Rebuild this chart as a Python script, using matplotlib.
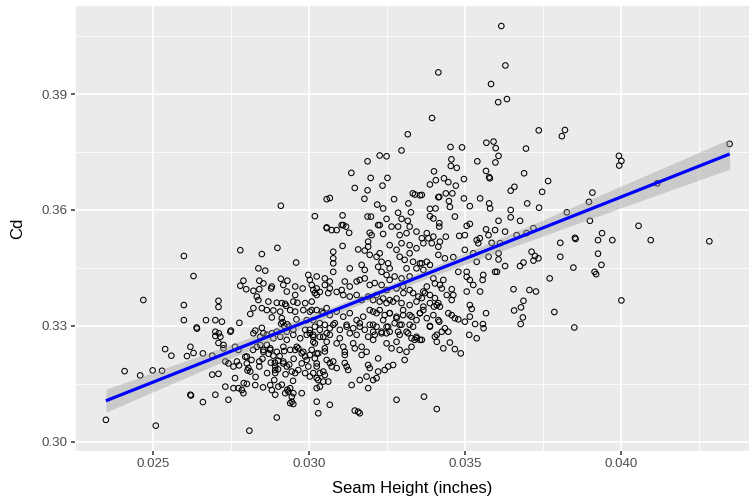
import numpy as np
import matplotlib
matplotlib.use("Agg")
import matplotlib.pyplot as plt
from matplotlib.ticker import FixedLocator

# Seam height (inches) and drag coefficient
seam_height = [
    # left tail
    0.02598,0.02629,0.02468,0.02598,0.02598,0.02669,0.02699,0.02639,0.02640,0.02709,
    0.02709,0.02699,0.02699,0.02709,0.02619,0.02538,0.02558,0.02608,0.02629,0.02659,
    0.02689,0.02408,0.02458,0.02498,0.02528,0.02689,0.02709,0.02619,0.02621,0.02659,
    0.02699,0.02348,0.02508,
    # 0.0275 - 0.030, upper
    0.02779,0.02848,0.02898,0.02958,0.02837,0.02859,0.02789,0.02779,0.02798,0.02821,
    0.02840,0.02840,0.02878,0.02909,0.02930,0.02955,0.02979,0.02997,0.03008,0.02928,
    0.02832,0.02837,0.02869,0.02896,0.02923,0.02926,0.02955,0.02962,0.02987,0.03008,
    0.03018,0.02821,0.02848,0.02864,0.02885,0.02907,0.02939,0.02955,0.02981,0.03002,
    0.02811,0.02880,0.02912,0.02915,0.02930,0.02920,0.02935,0.02910,0.02959,0.02992,
    0.03013,0.02720,0.02776,0.02749,0.02710,0.02827,0.02848,0.02880,0.02987,0.03002,
    # 0.027 - 0.030, lower
    0.02715,0.02725,0.02725,0.02747,0.02853,0.02896,0.02928,0.02949,0.03013,0.02762,
    0.02773,0.02731,0.02741,0.02757,0.02768,0.02800,0.02800,0.02805,0.02811,0.02820,
    0.02853,0.02885,0.02890,0.02840,0.02870,0.02920,0.02950,0.02900,0.02843,0.02864,
    0.02875,0.02891,0.02891,0.02891,0.02917,0.02928,0.02944,0.02955,0.02965,0.02976,
    0.02955,0.02965,0.02976,0.02987,0.02992,0.03002,0.02997,0.02987,0.03002,0.03013,
    0.03024,0.03029,0.02731,0.02757,0.02773,0.02784,0.02789,0.02800,0.02827,0.02875,
    0.02880,0.02901,0.02891,0.02923,0.02933,0.02949,0.02944,0.02944,0.02939,0.02949,
    0.02939,0.02976,0.02741,0.03024,0.03029,0.02896,0.02808,
    # overlapping circles in the dense lower-left cluster
    0.02762,0.02775,0.02790,0.02802,0.02815,0.02828,0.02840,0.02852,0.02865,0.02877,
    0.02888,0.02900,0.02912,0.02924,0.02936,0.02948,0.02795,0.02850,0.02905,0.02930,
    # 0.030 - 0.0335, upper
    0.03056,0.03072,0.03088,0.03104,0.03118,0.03128,0.03194,0.03200,0.03226,0.03237,
    0.03264,0.03285,0.03290,0.03312,0.03322,0.03344,0.03189,0.03189,0.03258,0.03280,
    0.03296,0.03322,0.03344,0.03322,0.03107,0.03077,0.03077,0.03077,0.03077,0.03157,
    0.03178,0.03194,0.03216,0.03226,0.03232,0.03221,0.03232,0.03253,0.03258,0.03248,
    0.03258,0.03290,0.03306,0.03312,0.03333,0.03344,0.03322,0.03296,0.03274,0.03130,
    0.03168,0.03178,0.03024,0.03050,0.03066,0.03002,0.03114,0.03130,0.03152,0.03162,
    0.03178,0.03194,0.03210,0.03232,0.03248,0.03280,0.03301,0.03322,0.03013,0.03024,
    0.03034,0.03066,0.03088,0.03104,0.03109,0.03130,0.03152,0.03168,0.03189,0.03216,
    0.03237,0.03258,0.03280,
    0.03024,0.03045,0.03066,0.03088,0.03109,0.03130,0.03152,0.03173,0.03194,0.03216,
    0.03237,0.03258,0.03280,0.03301,0.03322,0.03344,0.03034,0.03077,0.03120,0.03162,
    0.03205,0.03248,0.03290,0.03333,
    # 0.030 - 0.0335, lower
    0.03002,0.03018,0.03034,0.03050,0.03066,0.03082,0.03098,0.03120,0.03141,0.03162,
    0.03178,0.03194,0.03216,0.03232,0.03253,0.03274,0.03296,0.03322,0.03344,
    0.03013,0.03045,0.03066,0.03098,0.03130,0.03152,0.03189,0.03210,0.03248,0.03285,
    0.03312,0.03328,0.03338,
    0.03018,0.03056,0.03088,0.03109,0.03114,0.03114,0.03141,0.03146,0.03168,0.03184,
    0.03168,0.03205,0.03248,0.03264,0.03280,0.03290,0.03312,0.03328,
    0.03024,0.03018,0.03050,0.03056,0.03066,0.03072,0.03077,0.03088,0.03114,0.03120,
    0.03125,0.03050,0.03034,0.03024,0.03045,0.03061,0.03034,0.03024,0.03189,0.03194,
    0.03221,0.03221,0.03242,0.03253,0.03269,0.03306,0.03216,0.03205,0.03184,0.03162,
    0.03136,0.03189,0.03280,0.03066,0.03146,0.03157,0.03162,
    # 0.029 - 0.0345, high
    0.03394,0.03316,0.03296,0.03226,0.03248,0.03187,0.03135,0.03197,0.03251,0.03146,
    0.03187,0.03235,0.03177,0.03066,0.03272,0.03332,0.03339,0.03355,0.03318,0.03400,
    0.03406,0.03387,0.03218,0.03237,0.03285,0.03326,0.03387,0.03405,0.03387,0.03398,
    0.03107,0.03187,0.03198,0.03248,0.03296,0.03316,0.03109,0.03221,0.03414,
    0.02909,0.03018,0.03056,0.03056,
    # 0.0335 - 0.038, high
    0.03616,0.03414,0.03629,0.03583,0.03606,0.03634,0.03736,0.03453,0.03490,0.03568,
    0.03591,0.03598,0.03695,0.03607,0.03597,0.03456,0.03454,0.03473,0.03539,0.03567,
    0.03577,0.03579,0.03432,0.03446,0.03470,0.03496,0.03689,0.03766,0.03747,0.03646,
    0.03658,0.03361,0.03417,0.03438,0.03459,0.03448,0.03451,0.03496,0.03548,0.03515,
    0.03577,0.03580,0.03699,0.03737,0.03646,
    # 0.0335 - 0.038, middle
    0.03417,0.03417,0.03377,0.03361,0.03366,0.03382,0.03398,0.03393,0.03414,0.03419,
    0.03438,0.03467,0.03515,0.03505,0.03481,0.03499,0.03567,0.03575,0.03596,0.03607,
    0.03628,0.03646,0.03676,0.03719,0.03697,0.03665,0.03612,0.03585,0.03537,0.03547,
    0.03542,0.03499,0.03526,0.03462,0.03435,0.03414,0.03377,0.03361,0.03387,0.03366,
    0.03575,0.03607,0.03607,0.03537,0.03596,0.03602,0.03628,0.03676,0.03687,0.03713,
    0.03724,0.03735,0.03719,0.03771,0.03478,0.03505,0.03505,0.03515,0.03526,0.03558,
    0.03556,0.03430,0.03419,0.03398,0.03403,0.03377,0.03425,0.03457,0.03371,0.03361,
    0.03403,0.03414,0.03419,0.03400,0.03366,0.03355,0.03441,0.03462,0.03457,0.03505,
    0.03548,0.03655,0.03706,0.03727,0.03687,0.03679,0.03657,0.03685,0.03678,0.03786,
    0.03515,0.03521,0.03567,0.03446,0.03457,0.03467,0.03478,0.03499,0.03515,0.03532,
    0.03557,0.03559,0.03387,0.03417,0.03435,0.03446,0.03425,0.03403,0.03409,0.03430,
    0.03451,0.03467,0.03486,0.03513,0.03537,0.03361,0.03368,0.03409,
    # right tail
    0.03820,0.03810,0.04348,0.03993,0.04001,0.03994,0.04116,0.03908,0.03897,0.03826,
    0.03900,0.04056,0.03939,0.03852,0.03854,0.03926,0.03972,0.04095,0.04283,0.03805,
    0.03805,0.03926,0.03937,0.03847,0.03915,0.03920,0.04001,0.03850,
    # core fill, 0.032 - 0.034
    0.03355,0.03302,0.03333,0.03350,0.03366,0.03387,
    0.03205,0.03226,0.03248,0.03269,0.03296,0.03322,0.03344,0.03366,0.03387,0.03409,
    0.03205,0.03226,0.03242,0.03258,0.03280,0.03301,0.03328,0.03355,0.03377,0.03398,
    0.03414,
    0.03205,0.03232,0.03258,0.03290,0.03317,0.03345,0.03355,0.03387,0.03409,
    # core fill, 0.028 - 0.0306
    0.02853,0.02880,0.02917,0.03024,0.03050,0.03061,
    0.02912,0.02949,0.03008,0.03040,0.03056,
    0.02821,0.02843,0.02864,0.02885,0.02907,0.02928,0.02949,0.02971,0.02992,0.03013,
    0.03034,0.03056,
    0.02832,0.02853,0.02875,0.02896,0.02917,0.02939,0.02960,0.02981,0.03008,0.03029,
    0.03050,
    0.02917,0.03024,0.03045,
]

cd = [
    # left tail
    0.3481,0.3429,0.3367,0.3354,0.3315,0.3315,0.3315,0.3296,0.3293,0.3365,
    0.3349,0.3274,0.3285,0.3256,0.3246,0.3240,0.3223,0.3222,0.3230,0.3229,
    0.3223,0.3183,0.3172,0.3185,0.3184,0.3174,0.3176,0.3122,0.3120,0.3103,
    0.3122,0.3057,0.3042,
    # 0.0275 - 0.030, upper
    0.3496,0.3486,0.3502,0.3464,0.3449,0.3443,0.3417,0.3404,0.3395,0.3391,
    0.3395,0.3417,0.3397,0.3422,0.3417,0.3402,0.3397,0.3432,0.3406,0.3389,
    0.3376,0.3367,0.3363,0.3360,0.3357,0.3352,0.3380,0.3360,0.3359,0.3363,
    0.3385,0.3346,0.3346,0.3341,0.3340,0.3337,0.3341,0.3337,0.3341,0.3337,
    0.3331,0.3322,0.3320,0.3310,0.3304,0.3300,0.3298,0.3306,0.3317,0.3315,
    0.3315,0.3311,0.3308,0.3288,0.3281,0.3288,0.3295,0.3281,0.3290,0.3281,
    # 0.027 - 0.030, lower
    0.3272,0.3251,0.3242,0.3285,0.3281,0.3285,0.3285,0.3290,0.3272,0.3246,
    0.3238,0.3208,0.3203,0.3195,0.3208,0.3221,0.3203,0.3191,0.3182,0.3238,
    0.3233,0.3223,0.3205,0.3208,0.3228,0.3235,0.3215,0.3210,0.3251,0.3251,
    0.3238,0.3195,0.3186,0.3178,0.3203,0.3195,0.3182,0.3178,0.3186,0.3203,
    0.3238,0.3242,0.3229,0.3221,0.3212,0.3225,0.3195,0.3178,0.3169,0.3178,
    0.3195,0.3160,0.3143,0.3139,0.3139,0.3134,0.3126,0.3150,0.3147,0.3147,
    0.3134,0.3143,0.3122,0.3126,0.3130,0.3126,0.3117,0.3104,0.3100,0.3098,
    0.3139,0.3126,0.3109,0.3104,0.3074,0.3063,0.3029,
    # overlapping circles in the dense lower-left cluster
    0.3165,0.3198,0.3152,0.3185,0.3212,0.3168,0.3195,0.3141,0.3178,0.3205,
    0.3160,0.3188,0.3148,0.3175,0.3200,0.3158,0.3220,0.3215,0.3222,0.3135,
    # 0.030 - 0.0335, upper
    0.3555,0.3548,0.3548,0.3561,0.3557,0.3541,0.3541,0.3535,0.3561,0.3538,
    0.3557,0.3557,0.3535,0.3540,0.3557,0.3544,0.3518,0.3505,0.3509,0.3497,
    0.3514,0.3509,0.3501,0.3488,0.3507,0.3492,0.3475,0.3462,0.3440,0.3498,
    0.3495,0.3484,0.3479,0.3488,0.3466,0.3453,0.3440,0.3462,0.3449,0.3432,
    0.3419,0.3479,0.3471,0.3449,0.3466,0.3449,0.3428,0.3423,0.3428,0.3449,
    0.3458,0.3445,0.3428,0.3423,0.3415,0.3419,0.3415,0.3402,0.3415,0.3419,
    0.3423,0.3406,0.3411,0.3406,0.3393,0.3397,0.3402,0.3393,0.3393,0.3380,
    0.3388,0.3397,0.3388,0.3393,0.3380,0.3376,0.3380,0.3367,0.3376,0.3380,
    0.3371,0.3367,0.3371,
    0.3341,0.3333,0.3328,0.3337,0.3324,0.3333,0.3315,0.3324,0.3341,0.3333,
    0.3315,0.3333,0.3320,0.3341,0.3328,0.3315,0.3307,0.3303,0.3298,0.3298,
    0.3303,0.3298,0.3303,0.3298,
    # 0.030 - 0.0335, lower
    0.3290,0.3298,0.3290,0.3303,0.3294,0.3307,0.3290,0.3303,0.3294,0.3307,
    0.3290,0.3303,0.3298,0.3285,0.3298,0.3307,0.3303,0.3303,0.3272,
    0.3277,0.3272,0.3277,0.3268,0.3281,0.3277,0.3272,0.3277,0.3281,0.3285,
    0.3285,0.3268,0.3264,
    0.3255,0.3259,0.3255,0.3246,0.3233,0.3225,0.3255,0.3242,0.3246,0.3233,
    0.3225,0.3264,0.3255,0.3242,0.3259,0.3238,0.3233,0.3246,
    0.3229,0.3216,0.3234,0.3212,0.3204,0.3195,0.3208,0.3191,0.3204,0.3195,
    0.3186,0.3173,0.3178,0.3165,0.3156,0.3156,0.3143,0.3139,0.3199,0.3191,
    0.3216,0.3182,0.3186,0.3195,0.3199,0.3212,0.3165,0.3160,0.3169,0.3160,
    0.3147,0.3139,0.3109,0.3096,0.3081,0.3078,0.3074,
    # 0.029 - 0.0345, high
    0.3838,0.3796,0.3754,0.3741,0.3739,0.3726,0.3696,0.3683,0.3683,0.3657,
    0.3651,0.3663,0.3629,0.3631,0.3628,0.3643,0.3640,0.3638,0.3617,0.3700,
    0.3677,0.3666,0.3614,0.3604,0.3593,0.3594,0.3603,0.3604,0.3584,0.3578,
    0.3586,0.3583,0.3583,0.3577,0.3577,0.3572,0.3561,0.3561,0.3633,
    0.3611,0.3584,0.3628,0.3553,
    # 0.0335 - 0.038, high
    0.4076,0.3956,0.3974,0.3926,0.3879,0.3887,0.3806,0.3763,0.3762,0.3774,
    0.3777,0.3760,0.3759,0.3740,0.3723,0.3731,0.3714,0.3709,0.3726,0.3701,
    0.3685,0.3682,0.3682,0.3672,0.3663,0.3680,0.3695,0.3675,0.3647,0.3650,
    0.3660,0.3639,0.3634,0.3643,0.3643,0.3623,0.3608,0.3630,0.3630,0.3610,
    0.3617,0.3604,0.3617,0.3606,0.3600,
    # 0.0335 - 0.038, middle
    0.3566,0.3557,0.3540,0.3527,0.3514,0.3527,0.3531,0.3514,0.3505,0.3518,
    0.3531,0.3583,0.3564,0.3559,0.3533,0.3535,0.3550,0.3535,0.3548,0.3572,
    0.3544,0.3581,0.3572,0.3553,0.3540,0.3535,0.3514,0.3515,0.3522,0.3527,
    0.3514,0.3497,0.3488,0.3478,0.3475,0.3484,0.3466,0.3462,0.3458,0.3445,
    0.3479,0.3488,0.3472,0.3466,0.3440,0.3440,0.3455,0.3455,0.3464,0.3492,
    0.3481,0.3475,0.3469,0.3423,0.3440,0.3440,0.3427,0.3419,0.3406,0.3432,
    0.3419,0.3419,0.3406,0.3423,0.3410,0.3402,0.3397,0.3395,0.3385,0.3372,
    0.3372,0.3359,0.3350,0.3350,0.3341,0.3333,0.3380,0.3380,0.3367,0.3389,
    0.3389,0.3395,0.3393,0.3389,0.3365,0.3348,0.3340,0.3322,0.3305,0.3336,
    0.3354,0.3344,0.3333,0.3333,0.3328,0.3320,0.3317,0.3311,0.3324,0.3305,
    0.3305,0.3294,0.3300,0.3311,0.3294,0.3285,0.3285,0.3272,0.3259,0.3242,
    0.3257,0.3240,0.3229,0.3277,0.3268,0.3264,0.3117,0.3085,
    # right tail
    0.3807,0.3791,0.3771,0.3740,0.3727,0.3715,0.3669,0.3645,0.3621,0.3594,
    0.3572,0.3559,0.3540,0.3528,0.3525,0.3522,0.3522,0.3522,0.3519,0.3515,
    0.3479,0.3487,0.3458,0.3451,0.3440,0.3434,0.3366,0.3296,
    # core fill, 0.032 - 0.034
    0.3462,0.3385,0.3385,0.3376,0.3389,0.3380,
    0.3367,0.3363,0.3359,0.3363,0.3359,0.3354,0.3363,0.3350,0.3359,0.3354,
    0.3337,0.3341,0.3328,0.3333,0.3324,0.3328,0.3324,0.3333,0.3320,0.3328,
    0.3315,
    0.3285,0.3281,0.3285,0.3277,0.3281,0.3268,0.3264,0.3298,0.3277,
    # core fill, 0.028 - 0.0306
    0.3410,0.3402,0.3406,0.3397,0.3406,0.3385,
    0.3359,0.3363,0.3341,0.3337,0.3346,
    0.3281,0.3272,0.3277,0.3268,0.3272,0.3264,0.3277,0.3268,0.3277,0.3259,
    0.3272,0.3281,
    0.3246,0.3238,0.3242,0.3233,0.3246,0.3238,0.3246,0.3233,0.3238,0.3229,
    0.3242,
    0.3208,0.3203,0.3182,
]

x_ticks = [0.025, 0.030, 0.035, 0.040]
x_tick_labels = ["0.025", "0.030", "0.035", "0.040"]
y_ticks = [0.30, 0.33, 0.36, 0.39]
y_tick_labels = ["0.30", "0.33", "0.36", "0.39"]
x_title = "Seam Height (inches)"
y_title = "Cd"

n_pts = min(len(seam_height), len(cd))
x = np.array(seam_height[:n_pts])
y = np.array(cd[:n_pts])

# linear model with 95% confidence band (like geom_smooth(method = "lm"))
n = len(x)
slope, intercept = np.polyfit(x, y, 1)
xs = np.linspace(x.min(), x.max(), 80)
yhat = intercept + slope * xs
resid = y - (intercept + slope * x)
s = np.sqrt(np.sum(resid ** 2) / (n - 2))
sxx = np.sum((x - x.mean()) ** 2)
se = s * np.sqrt(1.0 / n + (xs - x.mean()) ** 2 / sxx)
tq = 1.9636

plt.rcParams['font.family'] = ['Liberation Sans', 'DejaVu Sans']

W, H = 749, 504
fig = plt.figure(figsize=(W / 100, H / 100), dpi=100)
fig.patch.set_facecolor('white')
px_l, px_r, px_t, px_b = 74.7, 760.8, 5.8, 450.9
ax = fig.add_axes([px_l / W, (H - px_b) / H, (px_r - px_l) / W, (px_b - px_t) / H])
ax.set_facecolor('#EBEBEB')

# expanded limits (5% each side)
xr = x.max() - x.min()
yr = y.max() - y.min()
ax.set_xlim(x.min() - 0.05 * xr, x.max() + 0.05 * xr)
ax.set_ylim(y.min() - 0.05 * yr, y.max() + 0.05 * yr)

ax.xaxis.set_major_locator(FixedLocator(x_ticks))
ax.yaxis.set_major_locator(FixedLocator(y_ticks))
ax.xaxis.set_minor_locator(FixedLocator([0.0225, 0.0275, 0.0325, 0.0375, 0.0425]))
ax.yaxis.set_minor_locator(FixedLocator([0.315, 0.345, 0.375, 0.405]))
ax.set_xticklabels(x_tick_labels)
ax.set_yticklabels(y_tick_labels)

ax.grid(which='major', color='white', linewidth=1.2)
ax.grid(which='minor', color='white', linewidth=0.6)
ax.set_axisbelow(True)
for sp in ax.spines.values():
    sp.set_visible(False)

ax.tick_params(which='major', length=3.0, width=1.1, color='#333333',
               labelsize=9.6, labelcolor='#4D4D4D', pad=2.2)
ax.tick_params(which='minor', length=0)

ax.scatter(x, y, s=16, facecolors='none', edgecolors='black', linewidths=0.75, zorder=3)
ax.fill_between(xs, yhat - tq * se, yhat + tq * se, color='#999999', alpha=0.4,
                linewidth=0, zorder=4)
ax.plot(xs, yhat, color='#0000FF', linewidth=2.3, zorder=5, solid_capstyle='butt')

ax.set_xlabel(x_title, fontsize=12, color='black')
ax.set_ylabel(y_title, fontsize=12, color='black')
ax.xaxis.set_label_coords((412 - px_l) / (px_r - px_l), (px_b - 489) / (px_b - px_t))
ax.yaxis.set_label_coords((18 - px_l) / (px_r - px_l), 0.5)
ax.xaxis.label.set_verticalalignment('center')
ax.yaxis.label.set_verticalalignment('center')

fig.savefig('out.png', dpi=100, facecolor='white')
